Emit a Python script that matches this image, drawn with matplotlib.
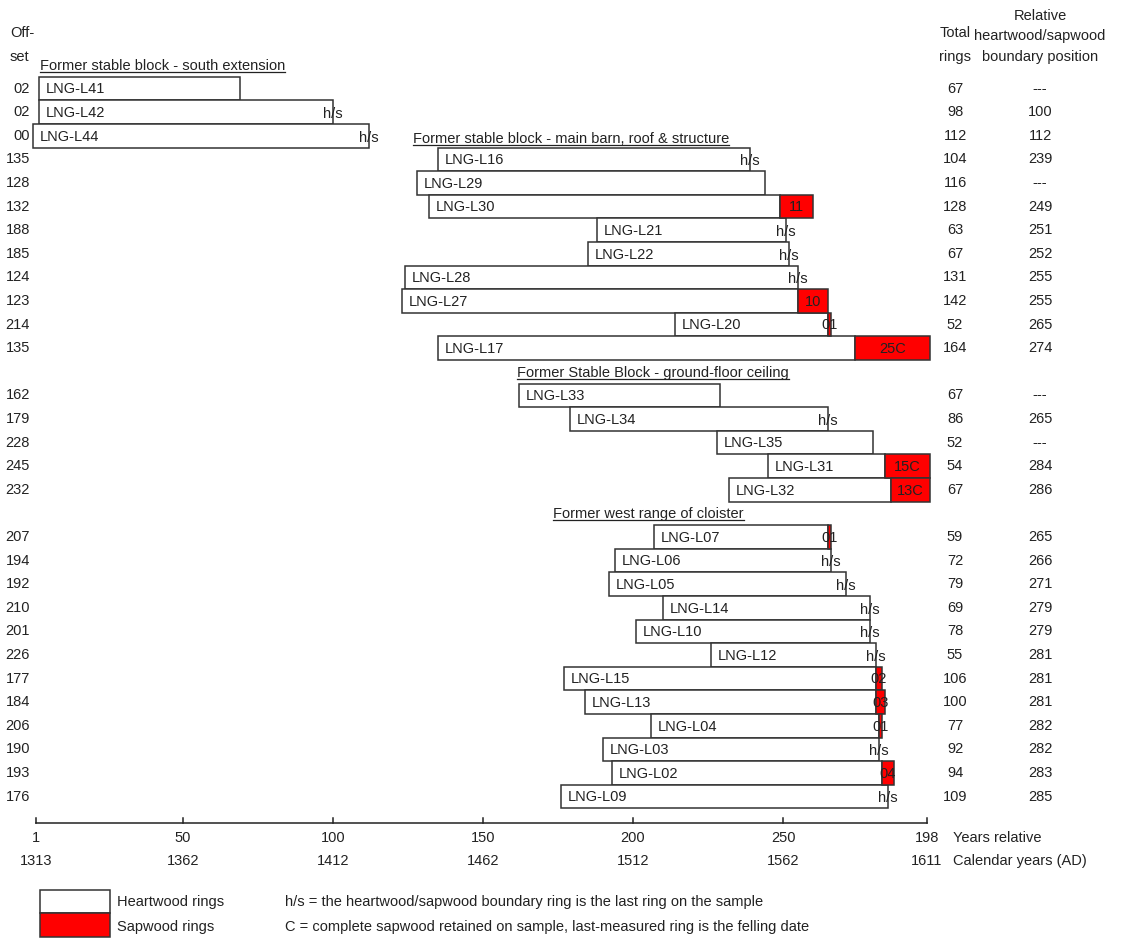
import matplotlib
matplotlib.use("Agg")
import matplotlib.pyplot as plt

plt.rcParams["font.family"] = ["Liberation Sans", "DejaVu Sans"]

# --- data ------------------------------------------------------------------
group_titles = [
    "Former stable block - south extension",
    "Former stable block - main barn, roof & structure",
    "Former Stable Block - ground-floor ceiling",
    "Former west range of cloister",
]
group_sizes = [3, 9, 5, 12]

samples = [
    "LNG-L41", "LNG-L42", "LNG-L44",
    "LNG-L16", "LNG-L29", "LNG-L30", "LNG-L21", "LNG-L22", "LNG-L28", "LNG-L27", "LNG-L20", "LNG-L17",
    "LNG-L33", "LNG-L34", "LNG-L35", "LNG-L31", "LNG-L32",
    "LNG-L07", "LNG-L06", "LNG-L05", "LNG-L14", "LNG-L10", "LNG-L12", "LNG-L15", "LNG-L13", "LNG-L04",
    "LNG-L03", "LNG-L02", "LNG-L09",
]
offsets = [
    2, 2, 0,
    135, 128, 132, 188, 185, 124, 123, 214, 135,
    162, 179, 228, 245, 232,
    207, 194, 192, 210, 201, 226, 177, 184, 206, 190, 193, 176,
]
total_rings = [
    67, 98, 112,
    104, 116, 128, 63, 67, 131, 142, 52, 164,
    67, 86, 52, 54, 67,
    59, 72, 79, 69, 78, 55, 106, 100, 77, 92, 94, 109,
]
sapwood_rings = [
    0, 0, 0,
    0, 0, 11, 0, 0, 0, 10, 1, 25,
    0, 0, 0, 15, 13,
    1, 0, 0, 0, 0, 0, 2, 3, 1, 0, 4, 0,
]
sapwood_labels = [
    "", "", "",
    "", "", "11", "", "", "", "10", "01", "25C",
    "", "", "", "15C", "13C",
    "01", "", "", "", "", "", "02", "03", "01", "", "04", "",
]
hs_flags = [
    False, True, True,
    True, False, False, True, True, True, False, False, False,
    False, True, False, False, False,
    False, True, True, True, True, True, False, False, False, True, False, True,
]
boundary_pos = [
    "---", "100", "112",
    "239", "---", "249", "251", "252", "255", "255", "265", "274",
    "---", "265", "---", "284", "286",
    "265", "266", "271", "279", "279", "281", "281", "281", "282", "282", "283", "285",
]

rel_ticks = [1, 50, 100, 150, 200, 250, 298]
rel_tick_labels = ["1", "50", "100", "150", "200", "250", "198"]
cal_tick_labels = ["1313", "1362", "1412", "1462", "1512", "1562", "1611"]

# --- layout ---------------------------------------------------------------
W, H = 1129, 940
X0, XS = 33.0, 3.0      # pixel of year 0, pixels per ring
Y0, YS = 65.0, 23.6     # pixel of slot 0, pixels per row
FS = 10.5
INK = "#222222"
EDGE = "#333333"


def ux(px):
    return (px - X0) / XS


def uy(py):
    return (py - Y0) / YS


header_own_row = [True, False, True, True]
header_px = [40, 413, 517, 553]

# row slots: each group header takes a row, except the second one
row_slots = []
header_slots = []
slot = 0
for size, own in zip(group_sizes, header_own_row):
    if own:
        header_slots.append(slot)
        slot += 1
    else:
        header_slots.append(slot - 1)
    for _ in range(size):
        row_slots.append(slot)
        slot += 1

fig = plt.figure(figsize=(W / 100, H / 100), dpi=100)
ax = fig.add_axes([0, 0, 1, 1])
ax.set_xlim(ux(0), ux(W))
ax.set_ylim(uy(H), uy(0))
ax.axis("off")

heart = [r - s for r, s in zip(total_rings, sapwood_rings)]
ax.barh(row_slots, heart, left=offsets, height=1.0, color="white",
        edgecolor=EDGE, linewidth=1.1, zorder=2)

sap_rows = [i for i, s in enumerate(sapwood_rings) if s > 0]
ax.barh([row_slots[i] for i in sap_rows], [sapwood_rings[i] for i in sap_rows],
        left=[offsets[i] + heart[i] for i in sap_rows], height=1.0,
        color="#ff0000", edgecolor=EDGE, linewidth=1.1, zorder=3)

for i, name in enumerate(samples):
    y = row_slots[i]
    ax.text(offsets[i] + 2.4, y + 0.03, name, fontsize=FS, color=INK, va="center", zorder=5)
    if hs_flags[i]:
        ax.text(offsets[i] + total_rings[i], y + 0.08, "h/s", fontsize=FS, color=INK,
                ha="center", va="center", zorder=5)
    if sapwood_rings[i]:
        ax.text(offsets[i] + heart[i] + sapwood_rings[i] / 2, y + 0.03, sapwood_labels[i],
                fontsize=FS, color=INK, ha="center", va="center", zorder=5)
    ax.text(ux(30), y, f"{offsets[i]:02d}", fontsize=FS, color=INK, ha="right", va="center")
    ax.text(ux(955), y, str(total_rings[i]), fontsize=FS, color=INK, ha="center", va="center")
    ax.text(ux(1040), y, boundary_pos[i], fontsize=FS, color=INK, ha="center", va="center")

# group headers, underlined
fig.canvas.draw()
renderer = fig.canvas.get_renderer()
inv = ax.transData.inverted()
for k, (title, hs, hx) in enumerate(zip(group_titles, header_slots, header_px)):
    yb = hs + (7 if k == 1 else 5) / YS
    t = ax.text(ux(hx), yb, title, fontsize=FS, color=INK, va="baseline", zorder=5)
    bb = t.get_window_extent(renderer)
    x_left = inv.transform((bb.x0, 0))[0]
    x_right = inv.transform((bb.x1, 0))[0]
    ax.plot([x_left, x_right], [yb + 2 / YS] * 2, color=INK, lw=0.9, zorder=5)

# column headers
for txt, py in [("Off-", 33), ("set", 57)]:
    ax.text(ux(10), uy(py), txt, fontsize=FS, color=INK, va="center")
for txt, py in [("Total", 33), ("rings", 57)]:
    ax.text(ux(955), uy(py), txt, fontsize=FS, color=INK, ha="center", va="center")
for txt, py in [("Relative", 16), ("heartwood/sapwood", 36), ("boundary position", 57)]:
    ax.text(ux(1040), uy(py), txt, fontsize=FS, color=INK, ha="center", va="center")

# scale
ya = uy(823)
ax.plot([rel_ticks[0], rel_ticks[-1]], [ya, ya], color=INK, lw=1.1)
for t, rl, cl in zip(rel_ticks, rel_tick_labels, cal_tick_labels):
    ax.plot([t, t], [ya, uy(818)], color=INK, lw=1.1)
    ax.text(t, uy(838), rl, fontsize=FS, color=INK, ha="center", va="center")
    ax.text(t, uy(861), cl, fontsize=FS, color=INK, ha="center", va="center")
ax.text(ux(953), uy(838), "Years relative", fontsize=FS, color=INK, va="center")
ax.text(ux(953), uy(861), "Calendar years (AD)", fontsize=FS, color=INK, va="center")

# key
ax.add_patch(plt.Rectangle((ux(40), uy(890)), 70 / XS, 23 / YS, fc="white", ec=EDGE, lw=1.1))
ax.add_patch(plt.Rectangle((ux(40), uy(913)), 70 / XS, 24 / YS, fc="#ff0000", ec=EDGE, lw=1.1))
ax.text(ux(117), uy(902), "Heartwood rings", fontsize=FS, color=INK, va="center")
ax.text(ux(117), uy(927), "Sapwood rings", fontsize=FS, color=INK, va="center")
ax.text(ux(285), uy(902), "h/s = the heartwood/sapwood boundary ring is the last ring on the sample",
        fontsize=FS, color=INK, va="center")
ax.text(ux(285), uy(927), "C = complete sapwood retained on sample, last-measured ring is the felling date",
        fontsize=FS, color=INK, va="center")

fig.savefig("out.png", dpi=100)
